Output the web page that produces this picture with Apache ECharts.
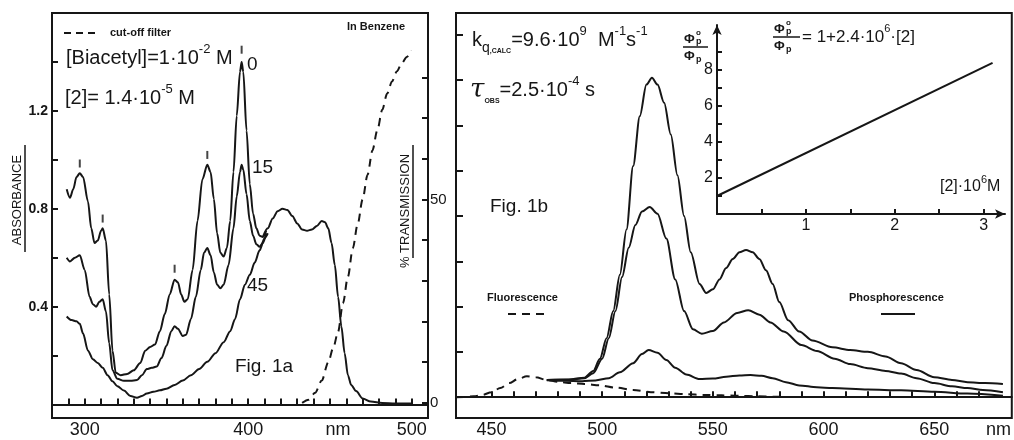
<!DOCTYPE html>
<html>
<head>
<meta charset="utf-8">
<script src="https://cdn.jsdelivr.net/npm/echarts@6/dist/echarts.min.js"></script>
<style>
  html, body { margin: 0; padding: 0; background: #fff; }
  #chart { width: 1014px; height: 440px; }
</style>
</head>
<body>
<div id="chart"></div>
<script>
// ---- Fig. 1a : absorbance (left axis) ----
const absNm0 = [289,291,293,295,297,299,302,304,306,308,310,311,313,315,317,319,322,326,330,334,337,340,343,346,349,352,355,357,359,361,363,366,369,372,375,377,379,381,383,385,387,389,391,393,395,396,397,399,401,403,405,407,409,411];
const absVal0 = [0.88,0.845,0.88,0.93,0.945,0.93,0.83,0.72,0.66,0.67,0.71,0.72,0.67,0.45,0.22,0.13,0.12,0.125,0.14,0.17,0.22,0.235,0.245,0.30,0.37,0.45,0.51,0.50,0.45,0.42,0.43,0.55,0.75,0.92,0.98,0.95,0.84,0.70,0.62,0.605,0.64,0.75,0.95,1.18,1.36,1.40,1.36,1.12,0.90,0.78,0.72,0.69,0.685,0.71];

const absNm15 = [289,291,294,297,300,303,305,307,309,311,313,315,317,320,324,328,332,335,338,341,344,347,350,353,355,357,360,362,365,368,371,373,375,377,379,381,383,385,388,391,393,395,396,397,399,401,403,405,407,409,411];
const absVal15 = [0.60,0.585,0.60,0.61,0.55,0.44,0.41,0.40,0.42,0.43,0.38,0.25,0.14,0.105,0.097,0.097,0.10,0.12,0.145,0.15,0.155,0.19,0.24,0.30,0.32,0.31,0.28,0.285,0.35,0.44,0.55,0.62,0.64,0.61,0.54,0.49,0.475,0.49,0.57,0.72,0.85,0.95,0.98,0.96,0.86,0.75,0.69,0.655,0.645,0.66,0.70];

const absNm45 = [289,292,295,297,299,302,305,308,311,314,317,320,324,328,332,335,338,342,346,350,355,360,365,370,375,380,385,389,392,395,398,401,404,407,410,412];
const absVal45 = [0.36,0.345,0.34,0.33,0.29,0.22,0.185,0.17,0.15,0.12,0.095,0.075,0.057,0.035,0.028,0.035,0.045,0.052,0.058,0.065,0.08,0.098,0.12,0.145,0.175,0.21,0.255,0.30,0.35,0.43,0.49,0.53,0.58,0.63,0.68,0.70];

// common long-wavelength band (all three curves coincide here)
const bandNm = [409,412,415,418,421,424,427,430,433,436,439,442,445,447,449,451,453,455,457,459,461,463,466,470,475,482,490,500];
const bandVal = [0.685,0.72,0.76,0.79,0.80,0.795,0.77,0.74,0.715,0.71,0.715,0.73,0.75,0.745,0.72,0.66,0.57,0.44,0.32,0.21,0.12,0.08,0.055,0.025,0.012,0.006,0.004,0.004];

// little marks over the peaks
const peakNm = [297,311,355,375,396];
const peakMark = [0.985,0.76,0.555,1.02,1.45];

// cut-off filter, % transmission (right axis)
const filterNm = [433,437,441,445,449,452,455,458,461,464,467,470,473,476,479,482,485,488,491,494,497,500];
const filterT = [0,0.8,2.5,5.5,10,13.5,17.5,24.5,31,38,44,50,56,62,67,72,76,79,81.5,83.5,85,86.5];

// ---- Fig. 1b : emission ----
const fluoNm = [434,438,442,446,450,454,458,462,466,470,475,480,486,492,499,506,514,522,530,538,546,554,562,570,578,583];
const fluoI = [0,0.05,0.2,0.5,1.1,2.0,3.1,4.0,4.6,4.4,3.8,3.4,3.1,2.9,2.6,2.1,1.6,1.1,0.85,0.65,0.5,0.4,0.3,0.2,0.1,0.05];

const phNm0 = [475,485,492,496,499,502,505,508,511,514,517,520,522.5,525,528,531,534,537,540,544,547,550,553,556,559,562,565,568,571,574,577,580,584,589,595,604,612,620,628,635,642,650,658,665,673,681];
const phI0 = [3.8,3.9,4.3,5.8,8.5,13,19,27,37,51,62,69,70.5,69,65,58,49,40,32,25,23,23.8,26,28.5,30.5,32,32.5,32,30.5,28,25,21,17,14.5,12.5,11,10.4,10,9,7.5,6,4.4,3.8,3.3,3.1,2.9];

const phNm15 = [475,485,492,496,500,503,506,509,512,515,518,521.5,525,529,533,537,541,545,550,555,561,566,571,576,582,590,597,605,612,620,628,635,642,650,658,665,672,681];
const phI15 = [3.8,3.85,4.2,5.3,8.5,13,19,26.5,33,38,41,42,40.5,35,26,19,15,14,14.6,16.5,18.6,19.2,18.2,16.5,14.5,11.5,10.2,8.5,7.3,6.4,5.8,5.2,4.2,3.1,2.4,2.0,1.6,1.1];

const phNm45 = [475,483,491,497,503,508,514,518,521,525,529,533,538,544,550,556,562,567,572,577,583,589,597,604,620,635,650,665,681];
const phI45 = [3.75,3.6,3.5,3.7,4.2,5.5,7.5,9.5,10.4,9.8,8.2,6.5,5,4.0,4.1,4.5,4.8,4.9,4.7,4.2,3.3,2.6,2.2,2.0,1.7,1.5,1.2,0.8,0.3];

// inset: Stern-Volmer plot
const svConc = [0, 3.1];
const svRatio = [1.0, 8.4];

// axis ticks / labels
const nmTicksA = [290,300,310,320,330,340,350,360,370,380,390,400,410,420,430,440,450,460,470,480,490,500];
const nmLabelsA = [300,400,455,500];
const absTicks = [0,0.2,0.4,0.6,0.8,1.0,1.2,1.4];
const absLabels = [0.4,0.8,1.2];
const transTicks = [0,10,20,30,40,50,60,70,80];
const transLabels = [0,50];
const nmTicksB = [450,460,470,480,490,500,510,520,530,540,550,560,570,580,590,600,610,620,630,640,650,660,670];
const nmLabelsB = [450,500,550,600,650,679];
const intTicks = [0,10,20,30,40,50,60,70,80];
const svXTicks = [0.5,1,1.5,2,2.5,3];
const svXLabels = [1,2,3];
const svYTicks = [1,2,3,4,5,6,7,8,9];
const svYLabels = [2,4,6,8];

const ink = '#161616';
const F = '"Liberation Sans", Arial, Helvetica, sans-serif';

function zip(xs, ys) {
  return xs.map((x, i) => [x, ys[i]]);
}

function curve(name, xs, ys, xi, yi, dashed) {
  return {
    name: name, type: 'line', xAxisIndex: xi, yAxisIndex: yi,
    data: zip(xs, ys), showSymbol: false, smooth: 0.3, smoothMonotone: 'x',
    lineStyle: { color: ink, width: 2, type: dashed ? [8, 6] : 'solid' },
    silent: true
  };
}

function valueAxis(extra) {
  return Object.assign({
    type: 'value',
    splitLine: { show: false },
    axisLine: { show: true, lineStyle: { color: ink, width: 2 } },
    axisTick: { inside: true, length: 6, lineStyle: { color: ink, width: 2 } },
    axisLabel: { color: ink, fontFamily: F }
  }, extra);
}

function txt(x, y, text, size, extra) {
  return {
    type: 'text', x: x, y: y, silent: true,
    style: Object.assign({
      text: text, fill: ink, fontFamily: F, fontSize: size,
      align: 'left', verticalAlign: 'middle'
    }, extra || {})
  };
}

function line(x1, y1, x2, y2, w, dash) {
  return {
    type: 'line', silent: true,
    shape: { x1: x1, y1: y1, x2: x2, y2: y2 },
    style: { stroke: ink, lineWidth: w, lineDash: dash || null }
  };
}

// rich text pieces: main, superscript, subscript
const richMain = (size) => ({ fontSize: size, fontFamily: F, fill: ink, lineHeight: size + 10, verticalAlign: 'middle' });
const richSup = (size) => ({ fontSize: size, fontFamily: F, fill: ink, lineHeight: size + 2, verticalAlign: 'top' });
const richSub = (size, bold) => ({ fontSize: size, fontFamily: F, fill: ink, lineHeight: size + 2, verticalAlign: 'bottom', fontWeight: bold ? 'bold' : 'normal' });

// phi ratio (Φp° / Φp), x = left end of the bar, y = bar height
function phiFrac(x, y, w) {
  return [
    txt(x + 1, y - 8, 'Φ', 13, { fontWeight: 'bold' }),
    txt(x + 13, y - 14, 'o', 8, { fontWeight: 'bold' }),
    txt(x + 13, y - 5, 'p', 9, { fontWeight: 'bold' }),
    line(x, y, x + w, y, 1.5),
    txt(x + 1, y + 9, 'Φ', 13, { fontWeight: 'bold' }),
    txt(x + 13, y + 13, 'p', 9, { fontWeight: 'bold' })
  ];
}

const graphics = [
  // Fig 1a texts
  line(64, 33, 98, 33, 2, [7, 5]),
  txt(110, 33, 'cut-off filter', 11, { fontWeight: 'bold' }),
  txt(347, 27, 'In Benzene', 11, { fontWeight: 'bold' }),
  txt(66, 58, '{m|[Biacetyl]=1·10}{s|-2}{m| M}', 20, { rich: { m: richMain(20), s: richSup(13) } }),
  txt(65, 98, '{m|[2]= 1.4·10}{s|-5}{m| M}', 20, { rich: { m: richMain(20), s: richSup(13) } }),
  txt(247, 65, '0', 19),
  txt(252, 168, '15', 19),
  txt(247, 286, '45', 19),
  txt(235, 367, 'Fig. 1a', 19),
  {
    type: 'text', x: 17, y: 200, rotation: Math.PI / 2, silent: true,
    style: { text: 'ABSORBANCE', fill: ink, fontFamily: F, fontSize: 13, align: 'center', verticalAlign: 'middle' }
  },
  line(25, 145, 25, 252, 1.5),
  {
    type: 'text', x: 405, y: 211, rotation: Math.PI / 2, silent: true,
    style: { text: '% TRANSMISSION', fill: ink, fontFamily: F, fontSize: 13, align: 'center', verticalAlign: 'middle' }
  },
  line(413, 145, 413, 258, 1.5),

  // Fig 1b texts
  txt(472, 40, '{m|k}{q|q}{c|,CALC}{m|=9.6·10}{s|9}{m|  M}{s|-1}{m|s}{s|-1}', 20, {
    rich: { m: richMain(20), s: richSup(13), q: richSub(14), c: richSub(7, true) }
  }),
  txt(470, 90, '{t|τ}{c|OBS}{m|=2.5·10}{s|-4}{m| s}', 20, {
    rich: {
      t: { fontSize: 26, fontFamily: '"DejaVu Serif", serif', fontStyle: 'italic', fill: ink, lineHeight: 30, verticalAlign: 'middle' },
      m: richMain(20), s: richSup(13), c: richSub(7, true)
    }
  }),
  txt(490, 207, 'Fig. 1b', 19),
  txt(487, 298, 'Fluorescence', 11, { fontWeight: 'bold' }),
  line(508, 314, 545, 314, 2, [8, 6]),
  txt(849, 298, 'Phosphorescence', 11, { fontWeight: 'bold' }),
  line(881, 314, 915, 314, 2),

  // inset texts
  ...phiFrac(683, 47, 25),
  ...phiFrac(773, 37, 27),
  txt(802, 37, '{m|= 1+2.4·10}{s|6}{m|·[2]}', 17, { rich: { m: richMain(17), s: richSup(11) } }),
  txt(940, 187, '{m|[2]·10}{s|6}{m|M}', 16, { rich: { m: richMain(16), s: richSup(11) } })
];

const chart = echarts.init(document.getElementById('chart'));

const option = {
  animation: false,
  backgroundColor: '#fff',
  grid: [
    { left: 52, top: 13, width: 376, height: 405, show: true, borderColor: ink, borderWidth: 2 },
    { left: 456, top: 13, width: 556, height: 405, show: true, borderColor: ink, borderWidth: 2 },
    { left: 717, top: 25, width: 288, height: 189, show: false }
  ],
  xAxis: [
    valueAxis({
      gridIndex: 0, min: 280, max: 510,
      axisTick: { inside: true, length: 6, lineStyle: { color: ink, width: 2 }, customValues: nmTicksA },
      axisLabel: { customValues: nmLabelsA, formatter: v => (v === 455 ? 'nm' : String(v)), color: ink, fontFamily: F, fontSize: 18, margin: 3 }
    }),
    valueAxis({
      gridIndex: 1, min: 434, max: 685,
      axisTick: { inside: true, length: 6, lineStyle: { color: ink, width: 2 }, customValues: nmTicksB },
      axisLabel: { customValues: nmLabelsB, formatter: v => (v === 679 ? 'nm' : String(v)), color: ink, fontFamily: F, fontSize: 18, margin: 3 }
    }),
    valueAxis({
      gridIndex: 2, min: 0, max: 3.24,
      axisLine: { show: true, symbol: ['none', 'arrow'], symbolSize: [7, 10], lineStyle: { color: ink, width: 2 } },
      axisTick: { inside: true, length: 5, lineStyle: { color: ink, width: 2 }, customValues: svXTicks },
      axisLabel: { customValues: svXLabels, color: ink, fontFamily: F, fontSize: 16, margin: 4 }
    })
  ],
  yAxis: [
    valueAxis({
      gridIndex: 0, min: -0.055, max: 1.6,
      axisTick: { inside: true, length: 6, lineStyle: { color: ink, width: 2 }, customValues: absTicks },
      axisLabel: { customValues: absLabels, formatter: v => v.toFixed(1), color: ink, fontFamily: F, fontSize: 14, fontWeight: 'bold', margin: 4 }
    }),
    valueAxis({
      gridIndex: 0, position: 'right', min: -3.7, max: 95.8,
      axisTick: { inside: true, length: 6, lineStyle: { color: ink, width: 2 }, customValues: transTicks },
      axisLabel: { customValues: transLabels, color: ink, fontFamily: F, fontSize: 15, margin: 2 }
    }),
    valueAxis({
      gridIndex: 1, min: -4.6, max: 84.8,
      axisTick: { inside: true, length: 7, lineStyle: { color: ink, width: 2 }, customValues: intTicks },
      axisLabel: { show: false }
    }),
    valueAxis({
      gridIndex: 2, min: 0, max: 10.5,
      axisLine: { show: true, symbol: ['none', 'arrow'], symbolSize: [7, 10], lineStyle: { color: ink, width: 2 } },
      axisTick: { inside: true, length: 5, lineStyle: { color: ink, width: 2 }, customValues: svYTicks },
      axisLabel: { customValues: svYLabels, color: ink, fontFamily: F, fontSize: 16, margin: 4 }
    })
  ],
  series: [
    curve('0', absNm0, absVal0, 0, 0),
    curve('15', absNm15, absVal15, 0, 0),
    curve('45', absNm45, absVal45, 0, 0),
    curve('band', bandNm, bandVal, 0, 0),
    {
      name: 'peaks', type: 'scatter', xAxisIndex: 0, yAxisIndex: 0,
      data: zip(peakNm, peakMark), symbol: 'rect', symbolSize: [2, 8],
      itemStyle: { color: ink }, silent: true
    },
    curve('cut-off filter', filterNm, filterT, 0, 1, true),

    curve('Fluorescence', fluoNm, fluoI, 1, 2, true),
    curve('Phos 0', phNm0, phI0, 1, 2),
    curve('Phos 15', phNm15, phI15, 1, 2),
    curve('Phos 45', phNm45, phI45, 1, 2),

    Object.assign(curve('Stern-Volmer', svConc, svRatio, 2, 3), { smooth: false })
  ],
  graphic: graphics
};

chart.setOption(option);
</script>
</body>
</html>
